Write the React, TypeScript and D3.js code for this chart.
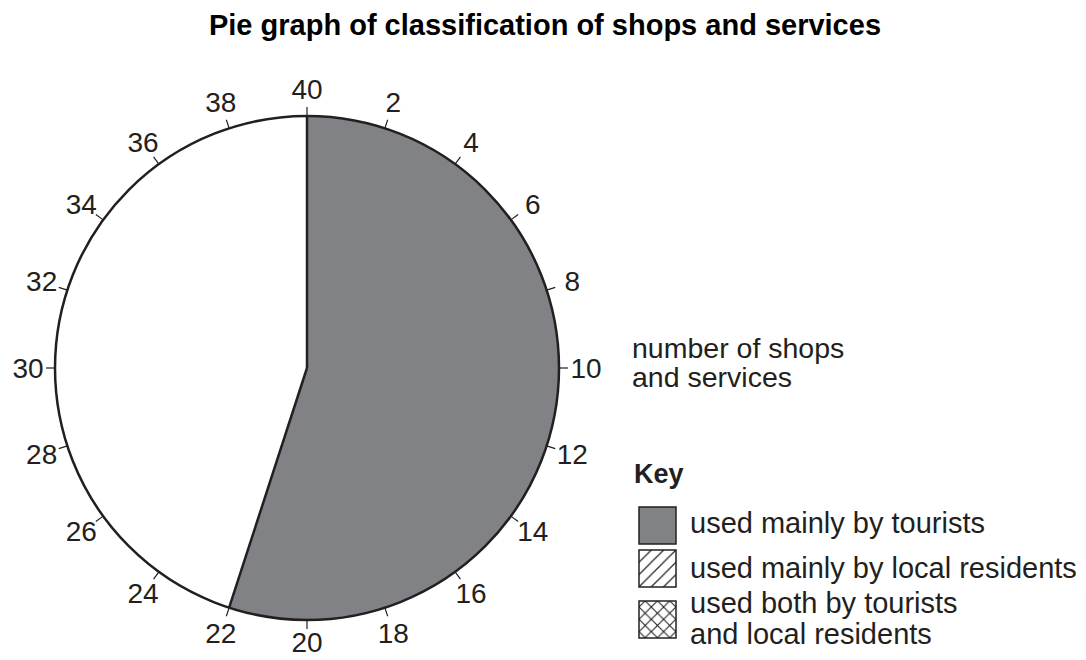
import React from "react";
import * as d3 from "d3";

const TITLE = "Pie graph of classification of shops and services";
const TOTAL = 40;
const SLICE_LABELS = ["used mainly by tourists"];
const SLICE_VALUES = [22];
const TICK_VALUES = d3.range(2, 41, 2);
const AXIS_LABEL = ["number of shops", "and services"];
const KEY_TITLE = "Key";
const KEY_ITEMS = [
  { kind: "solid", lines: ["used mainly by tourists"] },
  { kind: "hatch", lines: ["used mainly by local residents"] },
  { kind: "cross", lines: ["used both by tourists", "and local residents"] },
];

const W = 1086, H = 660;
const CX = 307, CY = 368, R = 252;
const FONT = "'Liberation Sans', Arial, Helvetica, sans-serif";
const GREY = "#808285";
const INK = "#231f20";

export default function App() {
  const angle = d3.scaleLinear().domain([0, TOTAL]).range([0, 2 * Math.PI]);
  const pie = d3.pie<number>().sort(null).startAngle(0).endAngle(angle(d3.sum(SLICE_VALUES)));
  const arcs = pie(SLICE_VALUES);
  const arcGen = d3.arc<any>().innerRadius(0).outerRadius(R);

  const pt = (v: number, r: number) => {
    const a = angle(v);
    return [CX + r * Math.sin(a), CY - r * Math.cos(a)];
  };

  const boxX = 639, boxS = 37;
  const boxYs = [507, 550, 601];
  const textYs = [[533], [578], [613, 644]];

  return (
    <svg width={W} height={H} style={{ position: "absolute", left: 0, top: 0, background: "#fff" }} fontFamily={FONT}>
      <defs>
        <pattern id="hatch" patternUnits="userSpaceOnUse" width="12.3" height="12.3" patternTransform={`translate(${boxX},${boxYs[1]})`}>
          <path d="M-3,3 L3,-3 M0,12.3 L12.3,0 M9.3,15.3 L15.3,9.3" stroke={INK} strokeWidth="1.2" />
        </pattern>
        <pattern id="cross" patternUnits="userSpaceOnUse" width="12.3" height="12.3" patternTransform={`translate(${boxX},${boxYs[2] + 6})`}>
          <path d="M0,0 L12.3,12.3 M0,12.3 L12.3,0" stroke={INK} strokeWidth="1.1" />
        </pattern>
      </defs>
      <text x={545} y={35} textAnchor="middle" fontWeight="bold" fontSize={29} fill="#000">{TITLE}</text>

      <g transform={`translate(${CX},${CY})`}>
        <circle r={R} fill="#fff" />
        {arcs.map((a, i) => (
          <path key={i} d={arcGen(a) as string} fill={GREY} stroke="none" />
        ))}
      </g>
      {[0, ...d3.cumsum(SLICE_VALUES)].map((v, i) => {
        const [x, y] = pt(v, R);
        return <line key={"b" + i} x1={CX} y1={CY} x2={x} y2={y} stroke={INK} strokeWidth={2.5} />;
      })}
      <circle cx={CX} cy={CY} r={R} fill="none" stroke={INK} strokeWidth={2.5} />
      {TICK_VALUES.map((v) => {
        const [x1, y1] = pt(v, R);
        const [x2, y2] = pt(v, R + 9);
        const [lx, ly0] = pt(v, R + 27);
        const ly = Math.min(ly0, H - 18);
        return (
          <g key={"t" + v}>
            <line x1={x1} y1={y1} x2={x2} y2={y2} stroke={INK} strokeWidth={1.2} />
            <text x={lx} y={ly} textAnchor="middle" dominantBaseline="central" fontSize={28} fill={INK}>{v}</text>
          </g>
        );
      })}

      <text fontSize={28.5} fill={INK}>
        {AXIS_LABEL.map((t, i) => (
          <tspan key={i} x={632} y={358 + i * 29}>{t}</tspan>
        ))}
      </text>

      <text x={634} y={483} fontWeight="bold" fontSize={27} fill={INK}>{KEY_TITLE}</text>
      {KEY_ITEMS.map((k, i) => (
        <g key={"k" + i}>
          <rect x={boxX} y={boxYs[i]} width={boxS} height={boxS}
            fill={k.kind === "solid" ? GREY : k.kind === "hatch" ? "url(#hatch)" : "url(#cross)"}
            stroke={INK} strokeWidth={1.5} />
          {k.lines.map((t, j) => (
            <text key={j} x={690} y={textYs[i][j]} fontSize={29} fill={INK}>{t}</text>
          ))}
        </g>
      ))}
    </svg>
  );
}
